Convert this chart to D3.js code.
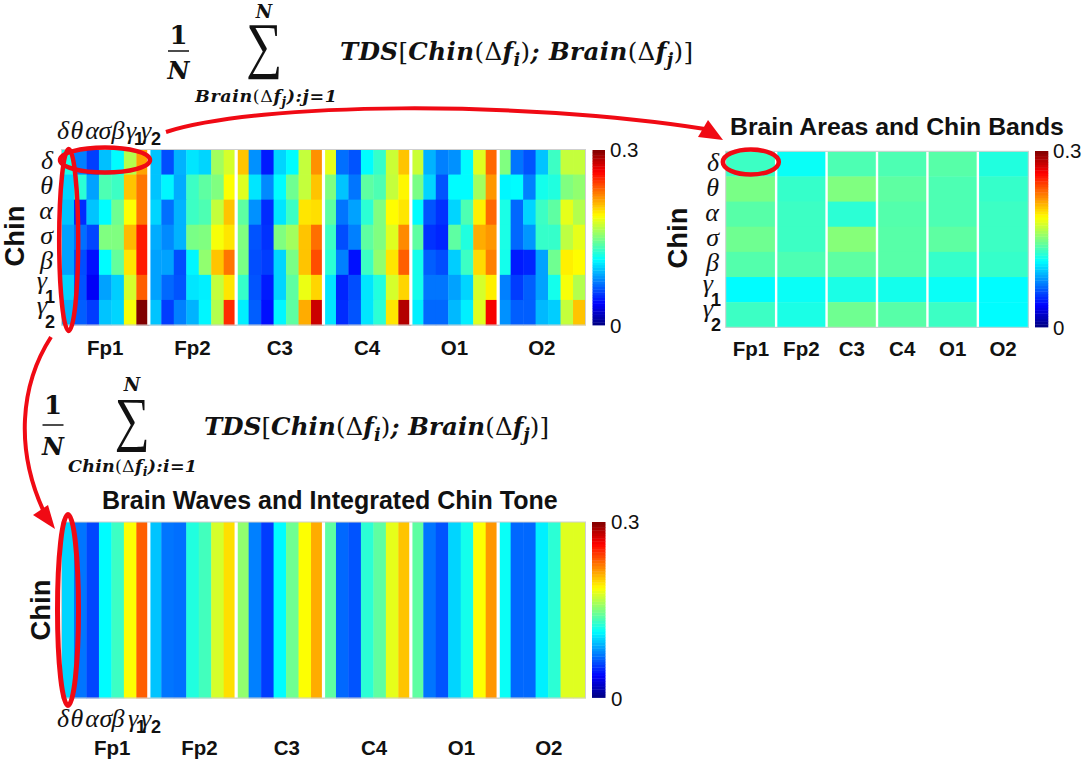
<!DOCTYPE html>
<html><head><meta charset="utf-8">
<script src="https://cdn.jsdelivr.net/npm/d3@7"></script>
<style>
html,body{margin:0;padding:0;background:#fff}
svg{display:block}
.b{font-family:"Liberation Sans",Arial,sans-serif;font-weight:bold;fill:#111}
.r{font-family:"Liberation Sans",Arial,sans-serif;fill:#111}
.g{font-family:"Liberation Serif",serif;font-style:italic;fill:#111}
.m{font-family:"DejaVu Serif",serif;font-style:italic;font-weight:bold;fill:#111}
.u{font-style:normal;font-weight:normal}
</style></head><body>
<svg id="c" width="1084" height="762"></svg>
<script>
// values are TDS x 1000 (colour scale 0 .. 300 = 0 .. 0.3)
const brainAreas = ["Fp1","Fp2","C3","C4","O1","O2"];
const chinBands = ["δ","θ","α","σ","β","γ1","γ2"];
const detailDelta = [120,75,56,94,112,165,215, 95,60,90,105,100,160,175, 205,80,45,100,112,170,220, 180,70,62,112,128,172,205, 172,90,75,80,112,178,232, 150,72,62,95,130,170,170];
const detailTheta = [100,125,85,135,130,205,228, 95,110,88,130,140,150,187, 178,105,78,112,145,170,205, 150,95,72,140,135,170,190, 148,100,62,112,112,160,218, 110,112,75,118,122,150,155];
const detailAlpha = [95,50,95,112,145,187,228, 100,70,90,130,135,170,205, 140,80,50,105,130,195,197, 140,72,85,125,150,188,195, 112,62,52,100,135,192,232, 120,68,100,130,140,180,165];
const detailSigma = [85,70,58,150,150,208,255, 88,78,90,148,150,185,195, 150,62,52,150,160,205,230, 130,60,75,140,150,178,222, 140,52,48,140,122,212,218, 120,68,82,128,128,168,180];
const detailBeta = [85,60,42,112,142,195,255, 85,85,60,110,155,205,228, 148,60,55,100,148,205,240, 125,75,42,130,155,195,235, 118,65,60,98,130,198,225, 118,45,48,85,145,192,188];
const detailGamma1 = [100,62,35,85,98,175,235, 85,68,62,105,108,170,195, 128,62,45,100,140,182,200, 105,48,60,105,122,175,200, 118,72,72,85,100,175,192, 75,55,65,85,118,185,165];
const detailGamma2 = [90,65,55,95,100,185,300, 95,55,75,90,110,165,250, 108,65,42,110,140,212,278, 105,50,62,105,125,195,285, 108,68,68,92,108,178,265, 80,65,65,92,98,170,205];
const detailRows = [detailDelta,detailTheta,detailAlpha,detailSigma,detailBeta,detailGamma1,detailGamma2];
const areaDelta = [130,115,135,135,138,122];
const areaTheta = [148,128,150,140,135,128];
const areaAlpha = [138,130,125,137,135,130];
const areaSigma = [145,130,152,138,140,130];
const areaBeta = [137,135,140,138,128,128];
const areaGamma1 = [112,115,120,118,115,112];
const areaGamma2 = [130,120,145,138,130,112];
const areaRows = [areaDelta,areaTheta,areaAlpha,areaSigma,areaBeta,areaGamma1,areaGamma2];
const integrated = [100,72,58,112,130,187,235, 95,72,70,122,132,175,197, 155,75,55,112,145,187,212, 140,68,62,125,140,180,205, 140,72,62,100,118,187,218, 115,68,68,108,125,178,178];

const svg = d3.select("#c");
const jetStops = [0,37.5,112.5,187.5,262.5,300];
const jetColors = ["#000080","#0000ff","#00ffff","#ffff00","#ff0000","#800000"];
const jet = d3.scaleLinear().domain(jetStops).range(jetColors).clamp(true);
const RED = "#f00a14";

function heat(box, rows, nCols, sepW){
  const g = svg.append("g");
  const x = d3.scaleBand().domain(d3.range(nCols)).range([box.x0,box.x1]);
  const y = d3.scaleBand().domain(d3.range(rows.length)).range([box.y0,box.y1]);
  rows.forEach((row,ri)=>{
    g.selectAll(null).data(row).enter().append("rect")
      .attr("x",(d,i)=>x(i)).attr("y",y(ri))
      .attr("width",x.bandwidth()+.4).attr("height",y.bandwidth()+.4)
      .attr("fill",d=>jet(d));
  });
  const groups = d3.scaleBand().domain(brainAreas).range([box.x0,box.x1]);
  brainAreas.slice(1).forEach(a=>{
    g.append("rect").attr("x",groups(a)-sepW/2).attr("y",box.y0)
      .attr("width",sepW).attr("height",box.y1-box.y0).attr("fill","#fff");
  });
  g.append("rect").attr("x",box.x0).attr("y",box.y0).attr("width",box.x1-box.x0).attr("height",box.y1-box.y0)
    .attr("fill","none").attr("stroke","#cfcfcf").attr("stroke-width",1);
  return {x,y,groups};
}
function colorbar(x0,x1,y0,y1,lx){
  const s = d3.scaleLinear().domain([0,300]).range([y1,y0]);
  const lv = d3.range(64).map(i=>(i+.5)*300/64);
  const h = (y1-y0)/64;
  svg.append("g").selectAll("rect").data(lv).enter().append("rect")
    .attr("x",x0).attr("width",x1-x0).attr("y",d=>s(d)-h/2).attr("height",h+.4).attr("fill",d=>jet(d));
  svg.append("text").attr("class","r").attr("x",lx).attr("y",s(300)+7).attr("font-size",20.5).text("0.3");
  svg.append("text").attr("class","r").attr("x",lx).attr("y",s(0)+8).attr("font-size",20.5).text("0");
}
function areaLabels(groups, dx, y, size){
  brainAreas.forEach(a=>{
    svg.append("text").attr("class","b").attr("text-anchor","middle")
      .attr("x",groups(a)+groups.bandwidth()/2+dx).attr("y",y).attr("font-size",size).text(a);
  });
}
function chinLabel(x,y,size){
  svg.append("text").attr("class","b").attr("text-anchor","middle").attr("font-size",size)
    .attr("transform",`translate(${x},${y}) rotate(-90)`).text("Chin");
}
function rowLabels(yScale, rightX){
  chinBands.forEach((b,i)=>{
    const yy = yScale(i)+yScale.bandwidth()/2;
    if(b.length===1){
      svg.append("text").attr("class","g").attr("text-anchor","end").attr("font-size",26)
        .attr("x",rightX).attr("y",yy+7).text(b);
    } else {
      svg.append("text").attr("class","g").attr("text-anchor","end").attr("font-size",26)
        .attr("x",rightX-6).attr("y",yy+2).text(b[0]);
      svg.append("text").attr("class","b").attr("text-anchor","end").attr("font-size",18)
        .attr("x",rightX+2).attr("y",yy+16).text(b[1]);
    }
  });
}
function colLabels(xs, y){
  chinBands.forEach((b,i)=>{
    svg.append("text").attr("class","g").attr("text-anchor","middle").attr("font-size",26)
      .attr("x",xs[i]).attr("y",y).text(b[0]);
    if(b.length>1) svg.append("text").attr("class","b").attr("text-anchor","middle").attr("font-size",18)
      .attr("x",xs[i]+(i===5?8:10)).attr("y",y+6).text(b[1]);
  });
}
// top-left
const A = heat({x0:61.5,x1:585.5,y0:149.5,y1:325},detailRows,42,3.2);
colorbar(592.5,605,150,325,610);
areaLabels(A.groups,0,354.5,20.5);
chinLabel(24,236,27.5);
rowLabels(A.y,53);
colLabels([63,77,92,105,118,131,146],139);
// top-right
const B = heat({x0:725.7,x1:1028.3,y0:151.3,y1:327.3},areaRows,6,2.4);
colorbar(1035,1048.3,151,327,1053);
areaLabels(B.groups,0,355.5,20.5);
chinLabel(687,238,27.5);
rowLabels(B.y,719);
svg.append("text").attr("class","b").attr("x",730).attr("y",135).attr("font-size",24.8).text("Brain Areas and Chin Bands");
// bottom
const C = heat({x0:61.5,x1:585.5,y0:522,y1:698},[integrated],42,3.2);
colorbar(592,605.5,522,697.5,611);
areaLabels(C.groups,7,754.5,20.5);
chinLabel(50,610,27.5);
colLabels([63,77,92,106,118,133,146],727);
svg.append("text").attr("class","b").attr("x",102).attr("y",509).attr("font-size",25).text("Brain Waves and Integrated Chin Tone");

// equations
function parts(t,list,size){
  let low=false;
  list.forEach(p=>{
    const s=t.append("tspan").text(p.t);
    if(p.u) s.attr("class","u");
    if(p.s){s.attr("font-size",size*.72).attr("dy",size*.25);low=true;}
    else if(low){s.attr("dy",-size*.25);low=false;}
  });
}
function eq(o,subList){
  svg.append("text").attr("class","m u").style("font-weight","bold").attr("text-anchor","middle").attr("font-size",26).attr("x",o.fx).attr("y",o.oneY).text("1");
  svg.append("line").attr("x1",o.fx-10.5).attr("x2",o.fx+10.5).attr("y1",o.barY).attr("y2",o.barY).attr("stroke","#111").attr("stroke-width",1.5);
  svg.append("text").attr("class","m").attr("text-anchor","middle").attr("font-size",24).attr("x",o.fx).attr("y",o.nY).text("N");
  svg.append("text").attr("class","m").attr("text-anchor","middle").attr("font-size",18).attr("x",o.sx).attr("y",o.topN).text("N");
  svg.append("text").attr("text-anchor","middle").attr("font-family","Liberation Serif").attr("fill","#111").attr("font-size",o.sigma)
    .attr("transform",`translate(${o.sx},${o.sigY}) scale(.82,1)`).text("∑");
  const t1=svg.append("text").attr("class","m").attr("font-size",17.5).attr("x",o.subX).attr("y",o.subY)
    .attr("textLength",o.subLen);
  parts(t1,subList,17.5);
  const t2=svg.append("text").attr("class","m").attr("font-size",24.5).attr("x",o.mainX).attr("y",o.mainY)
    .attr("textLength",o.mainLen);
  parts(t2,[{t:"TDS"},{t:"[",u:1},{t:"Chin"},{t:"(Δ",u:1},{t:"f"},{t:"i",s:1},{t:")",u:1},{t:"; "},{t:"Brain"},{t:"(Δ",u:1},{t:"f"},{t:"j",s:1},{t:")]",u:1}],24.5);
}
eq({fx:178.5,oneY:44,barY:51,nY:79,sx:264,topN:18,sigma:62,sigY:66,subX:195,subY:102,subLen:142,mainX:340,mainY:60,mainLen:353},
   [{t:"Brain"},{t:"(Δ",u:1},{t:"f"},{t:"j",s:1},{t:"):j=1"}]);
eq({fx:53,oneY:414,barY:425,nY:455,sx:132,topN:391,sigma:60,sigY:439,subX:68,subY:472,subLen:129,mainX:204,mainY:435,mainLen:345},
   [{t:"Chin"},{t:"(Δ",u:1},{t:"f"},{t:"i",s:1},{t:"):i=1"}]);

// red annotations
function ell(cx,cy,rx,ry,w){svg.append("ellipse").attr("cx",cx).attr("cy",cy).attr("rx",rx).attr("ry",ry)
  .attr("fill","none").attr("stroke",RED).attr("stroke-width",w);}
ell(105,160,45,12.5,4.5); ell(68.7,240,9.5,91,4.5); ell(750.8,162,28,12.5,4.5); ell(68,610,10.5,95.5,5);
svg.append("path").attr("d","M166,132 C260,102 520,100 705,129").attr("fill","none").attr("stroke",RED).attr("stroke-width",4);
svg.append("path").attr("d","M723,140 L708,120 L698,137 Z").attr("fill",RED);
svg.append("path").attr("d","M51,337 C20,385 15,450 44,512").attr("fill","none").attr("stroke",RED).attr("stroke-width",4);
svg.append("path").attr("d","M55,529 L33,515 L48,505 Z").attr("fill",RED);
</script>
</body></html>
